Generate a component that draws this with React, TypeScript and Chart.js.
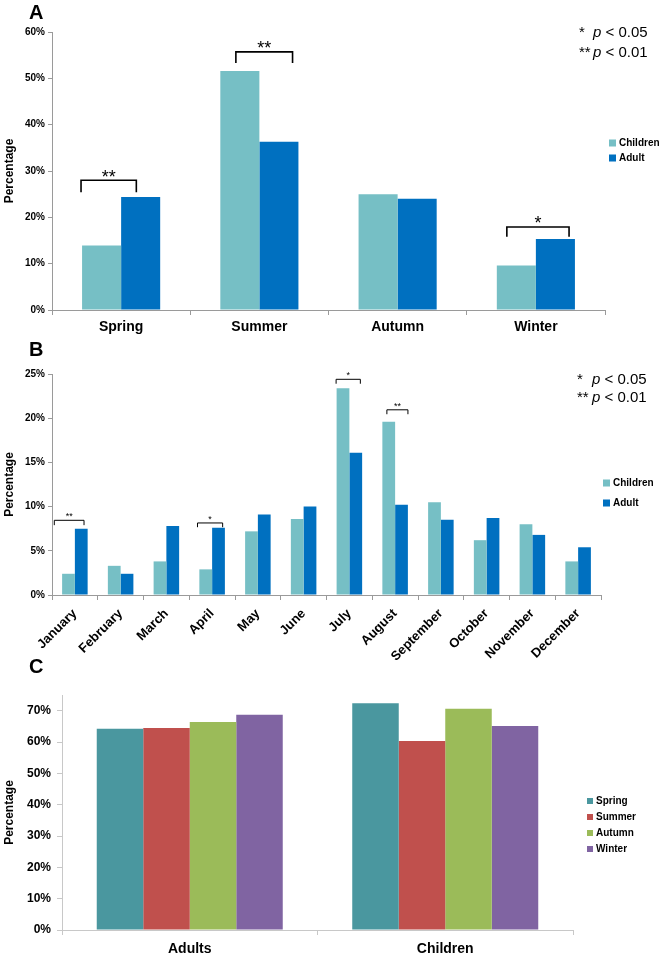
import React, { useEffect, useRef } from 'react';
import { Chart, registerables } from 'chart.js';

Chart.register(...registerables);

// ---------- Data ----------
const seasons = ['Spring', 'Summer', 'Autumn', 'Winter'];
const seasonChildren = [13.9, 51.6, 25.0, 9.6];
const seasonAdult = [24.4, 36.3, 24.0, 15.3];

const months = ['January', 'February', 'March', 'April', 'May', 'June', 'July', 'August', 'September', 'October', 'November', 'December'];
const monthChildren = [2.4, 3.3, 3.8, 2.9, 7.2, 8.6, 23.4, 19.6, 10.5, 6.2, 8.0, 3.8];
const monthAdult = [7.5, 2.4, 7.8, 7.6, 9.1, 10.0, 16.1, 10.2, 8.5, 8.7, 6.8, 5.4];

const groups = ['Adults', 'Children'];
const springShare = [64.2, 72.4];
const summerShare = [64.5, 60.3];
const autumnShare = [66.4, 70.6];
const winterShare = [68.7, 65.1];

const seasonTicksMax = 60;
const monthTicksMax = 25;
const shareTicksMax = 75;

// significance brackets: category index, bracket level and leg end (in %), label
const seasonSig = [
  { index: 0, level: 28.0, leg: 25.4, label: '**' },
  { index: 1, level: 55.7, leg: 53.3, label: '**' },
  { index: 3, level: 17.9, leg: 15.8, label: '*' },
];
const monthSig = [
  { index: 0, level: 8.45, leg: 7.9, label: '**' },
  { index: 3, level: 8.15, leg: 7.67, label: '*' },
  { index: 6, level: 24.4, leg: 23.9, label: '*' },
  { index: 7, level: 20.95, leg: 20.45, label: '**' },
];

// ---------- Styles ----------
const FONT = "'Liberation Sans', Arial, Helvetica, sans-serif";
const CHILD = '#76BFC5';
const ADULT = '#0070C0';
const SPRING = '#4A979F';
const SUMMER = '#C0504D';
const AUTUMN = '#9BBB59';
const WINTER = '#8064A2';
const AXIS = '#9A9A9A';

// horizontal spans of the brackets, in fractions of a category width
const seasonSpans = [[-0.29, 0.11], [-0.17, 0.24], [-0.21, 0.24]];
const monthSpans = [[-0.45, 0.2], [-0.32, 0.23], [-0.29, 0.24], [-0.18, 0.28]];

const annotPlugin = {
  id: 'annot',
  afterDraw(chart: any, _args: any, o: any) {
    const ctx = chart.ctx as CanvasRenderingContext2D;
    ctx.save();
    // panel letter
    if (o.letter) {
      ctx.fillStyle = '#000';
      ctx.font = `bold 20px ${FONT}`;
      ctx.textAlign = 'left';
      ctx.textBaseline = 'middle';
      ctx.fillText(o.letter.text, o.letter.x, o.letter.y);
    }
    // brackets
    if (o.brackets) {
      const xs = chart.scales.x;
      const ys = chart.scales.y;
      const cw = xs.getPixelForValue(1) - xs.getPixelForValue(0);
      ctx.strokeStyle = '#000';
      ctx.lineWidth = o.bracketWidth;
      o.brackets.forEach((b: any, i: number) => {
        const c = xs.getPixelForValue(b.index);
        const span = o.spans[i];
        const x1 = c + span[0] * cw;
        const x2 = c + span[1] * cw;
        const yTop = ys.getPixelForValue(b.level);
        const yLeg = ys.getPixelForValue(b.leg);
        ctx.beginPath();
        ctx.moveTo(x1, yLeg);
        ctx.lineTo(x1, yTop);
        ctx.lineTo(x2, yTop);
        ctx.lineTo(x2, yLeg);
        ctx.stroke();
        ctx.fillStyle = '#000';
        ctx.font = `${o.starSize}px ${FONT}`;
        ctx.textAlign = 'center';
        ctx.textBaseline = 'alphabetic';
        ctx.fillText(b.label, (x1 + x2) / 2, yTop - o.starGap + 0.57 * o.starSize);
      });
    }
    // p-value key
    if (o.pkey) {
      const k = o.pkey;
      const lines = [['*', ' < 0.05'], ['**', ' < 0.01']];
      ctx.fillStyle = '#000';
      ctx.textBaseline = 'middle';
      ctx.textAlign = 'left';
      lines.forEach((ln, i) => {
        const y = i === 0 ? k.y1 : k.y2;
        ctx.font = `${k.size}px ${FONT}`;
        ctx.fillText(ln[0], k.x, y);
        ctx.font = `italic ${k.size}px ${FONT}`;
        ctx.fillText('p', k.px, y);
        const pw = ctx.measureText('p').width;
        ctx.font = `${k.size}px ${FONT}`;
        ctx.fillText(ln[1], k.px + pw, y);
      });
    }
    // legend
    if (o.legend) {
      const L = o.legend;
      ctx.textBaseline = 'middle';
      ctx.textAlign = 'left';
      ctx.font = `bold ${L.size}px ${FONT}`;
      chart.data.datasets.forEach((ds: any, i: number) => {
        const y = L.y + i * L.gap;
        ctx.fillStyle = ds.backgroundColor;
        ctx.fillRect(L.x, y - L.box / 2, L.box, L.box);
        ctx.fillStyle = '#000';
        ctx.fillText(ds.label, L.x + L.box + 3, y + 0.5);
      });
    }
    ctx.restore();
  },
};

const pct = (v: any) => v + '%';

function yAxis(max: number, step: number, size: number, width: number, tick: number, pad: number, axisColor: string) {
  return {
    min: 0,
    max,
    ticks: { stepSize: step, callback: pct, color: '#000', font: { family: FONT, size, weight: 'bold' }, padding: pad },
    grid: { drawOnChartArea: false, tickLength: tick, color: axisColor },
    border: { color: axisColor },
    title: { display: true, text: 'Percentage', color: '#000', font: { family: FONT, size: 12, weight: 'bold' }, padding: { top: 2, bottom: 0 } },
    afterBuildTicks: (s: any) => {
      s.ticks = s.ticks.filter((t: any) => t.value % step === 0);
    },
    afterFit: (s: any) => {
      s.width = width;
    },
  };
}

function xAxis(size: number, rotation: number, pad: number, height: number, axisColor: string) {
  return {
    grid: { offset: true, drawOnChartArea: false, tickLength: 5, color: axisColor },
    border: { color: axisColor },
    ticks: { color: '#000', font: { family: FONT, size, weight: 'bold' }, padding: pad, minRotation: rotation, maxRotation: rotation, autoSkip: false },
    afterFit: (s: any) => {
      s.height = height;
    },
  };
}

function configA(): any {
  return {
    type: 'bar',
    data: {
      labels: seasons,
      datasets: [
        { label: 'Children', data: seasonChildren, backgroundColor: CHILD },
        { label: 'Adult', data: seasonAdult, backgroundColor: ADULT },
      ],
    },
    options: {
      animation: false,
      responsive: false,
      layout: { padding: { left: 0, right: 60, top: 32, bottom: 0 } },
      datasets: { bar: { categoryPercentage: 0.565, barPercentage: 1 } },
      plugins: {
        legend: { display: false },
        tooltip: { enabled: false },
        annot: {
          letter: { text: 'A', x: 29, y: 13 },
          brackets: seasonSig,
          spans: seasonSpans,
          bracketWidth: 1.6,
          starSize: 18,
          starGap: 8,
          pkey: { x: 579, px: 593, y1: 33, y2: 53, size: 15 },
          legend: { x: 609, y: 143, gap: 15, box: 7, size: 10 },
        },
      },
      scales: {
        x: xAxis(14, 0, 4, 35, AXIS),
        y: yAxis(seasonTicksMax, 10, 10, 52, 4, 3, AXIS),
      },
    },
    plugins: [annotPlugin],
  };
}

function configB(): any {
  return {
    type: 'bar',
    data: {
      labels: months,
      datasets: [
        { label: 'Children', data: monthChildren, backgroundColor: CHILD },
        { label: 'Adult', data: monthAdult, backgroundColor: ADULT },
      ],
    },
    options: {
      animation: false,
      responsive: false,
      layout: { padding: { left: 0, right: 64, top: 39, bottom: 0 } },
      datasets: { bar: { categoryPercentage: 0.558, barPercentage: 1 } },
      plugins: {
        legend: { display: false },
        tooltip: { enabled: false },
        annot: {
          letter: { text: 'B', x: 29, y: 15 },
          brackets: monthSig,
          spans: monthSpans,
          bracketWidth: 1,
          starSize: 9,
          starGap: 6,
          pkey: { x: 577, px: 592, y1: 45, y2: 63, size: 15 },
          legend: { x: 603, y: 148, gap: 20, box: 7, size: 10 },
        },
      },
      scales: {
        x: xAxis(13, 45, 6, 70, AXIS),
        y: yAxis(monthTicksMax, 5, 10, 52, 4, 3, AXIS),
      },
    },
    plugins: [annotPlugin],
  };
}

function configC(): any {
  return {
    type: 'bar',
    data: {
      labels: groups,
      datasets: [
        { label: 'Spring', data: springShare, backgroundColor: SPRING },
        { label: 'Summer', data: summerShare, backgroundColor: SUMMER },
        { label: 'Autumn', data: autumnShare, backgroundColor: AUTUMN },
        { label: 'Winter', data: winterShare, backgroundColor: WINTER },
      ],
    },
    options: {
      animation: false,
      responsive: false,
      layout: { padding: { left: 0, right: 92, top: 40, bottom: 0 } },
      datasets: { bar: { categoryPercentage: 0.728, barPercentage: 1 } },
      plugins: {
        legend: { display: false },
        tooltip: { enabled: false },
        annot: {
          letter: { text: 'C', x: 29, y: 12 },
          legend: { x: 587, y: 146, gap: 16, box: 6, size: 10 },
        },
      },
      scales: {
        x: xAxis(14, 0, 6, 30, '#C8C8C8'),
        y: yAxis(shareTicksMax, 10, 12, 62, 5, 6, '#C8C8C8'),
      },
    },
    plugins: [annotPlugin],
  };
}

function Panel({ top, height, build }: { top: number; height: number; build: () => any }) {
  const ref = useRef<HTMLCanvasElement>(null);
  useEffect(() => {
    const chart = new Chart(ref.current as HTMLCanvasElement, build());
    return () => chart.destroy();
  }, []);
  return (
    <canvas
      ref={ref}
      width={665}
      height={height}
      style={{ position: 'absolute', left: 0, top, width: 665, height }}
    />
  );
}

export default function App() {
  return (
    <div style={{ position: 'fixed', left: 0, top: 0, width: 665, height: 960, background: '#fff', overflow: 'hidden' }}>
      <Panel top={0} height={345} build={configA} />
      <Panel top={335} height={330} build={configB} />
      <Panel top={655} height={305} build={configC} />
    </div>
  );
}
